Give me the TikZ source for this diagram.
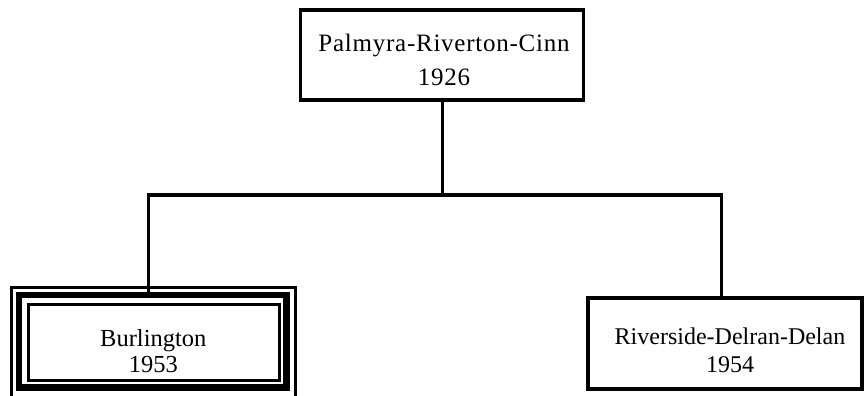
\documentclass[tikz,border=0pt]{standalone}
\usepackage{fontspec}
\setmainfont{Liberation Serif}
\begin{document}
\begin{tikzpicture}[x=1pt,y=-1pt,
  box/.style={draw, rectangle, inner sep=0pt, outer sep=0pt, line width=3.3pt},
  thinframe/.style={draw, rectangle, inner sep=0pt, outer sep=0pt, line width=3pt},
  thickframe/.style={draw, rectangle, inner sep=0pt, outer sep=0pt, line width=6.5pt},
  link/.style={line width=3.3pt},
  lbl/.style={align=center, inner sep=0pt}]
\useasboundingbox (0,0) rectangle (865,396);
\clip (0,0) rectangle (865,396);
% top box
\node[box, minimum width=283pt, minimum height=90pt] (top) at (442,55) {};
\node[lbl, font=\fontsize{25}{34}\selectfont\addfontfeature{LetterSpace=3}] (toptext) at (444,59.6) {Palmyra-Riverton-Cinn\\1926};
% Burlington triple frame
\node[thinframe, minimum width=283.5pt, minimum height=125pt] (burouter) at (153.25,350) {};
\node[thickframe, minimum width=267.5pt, minimum height=92.5pt] (bur) at (152.75,341.25) {};
\node[thinframe, minimum width=251pt, minimum height=76pt] (burinner) at (154,342.5) {};
\node[lbl, font=\fontsize{24.5}{25.7}\selectfont] (burtext) at (153.3,350.8) {Burlington\\1953};
% Riverside box
\node[box, minimum width=274pt, minimum height=91pt] (rds) at (725,343.5) {};
\node[lbl, font=\fontsize{24}{28}\selectfont] (rdstext) at (730,350) {Riverside-Delran-Delan\\1954};
% connectors
\coordinate (jl) at (148.3,195);
\coordinate (jr) at (721.7,195);
\coordinate (jm) at (442.5,195);
\draw[link] (top.south -| jm) -- (jm);
\draw[link, line cap=rect] (jl) -- (jr);
\draw[link] (jl) -- (jl |- bur.north);
\draw[link] (jr) -- (jr |- rds.north);
\end{tikzpicture}
\end{document}
